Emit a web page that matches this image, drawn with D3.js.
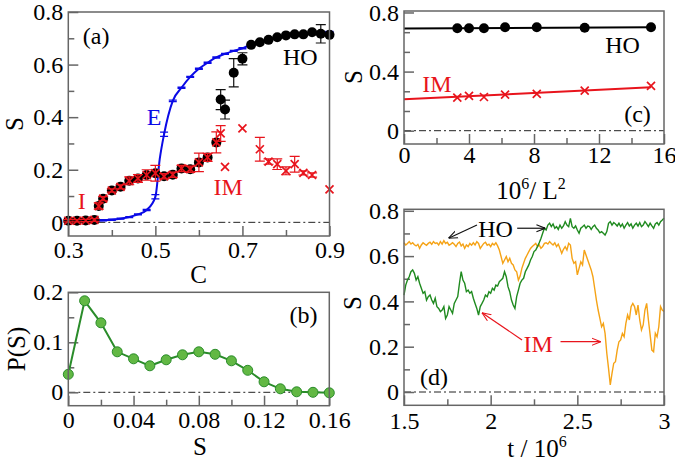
<!DOCTYPE html>
<html><head><meta charset="utf-8">
<script src="https://cdn.jsdelivr.net/npm/d3@7"></script>
<style>body{margin:0;background:#fff}svg{display:block}</style>
</head><body>
<svg id="c" width="675" height="470"></svg>
<script>
// ---------- Panel (a): S vs C ----------
const aIM_C = [0.30,0.32,0.34,0.36,0.37,0.38,0.40,0.42,0.44,0.46,0.48,0.50,0.52,0.54,0.56,0.58,0.60,0.62,0.64,0.65,0.66,0.70,0.74,0.76,0.78,0.80,0.82,0.84,0.86,0.90];
const aIM_S = [0.006,0.006,0.007,0.009,0.062,0.090,0.121,0.135,0.158,0.167,0.180,0.187,0.175,0.181,0.205,0.202,0.228,0.247,0.304,0.338,0.211,0.357,0.278,0.231,0.221,0.196,0.221,0.188,0.180,0.125];
const aIM_err = [0.004,0.004,0.004,0.005,0.012,0.008,0.006,0.008,0.015,0.015,0.020,0.030,0.010,0.010,0.012,0.012,0.035,0.015,0.040,0.030,0,0,0.045,0.010,0.020,0.015,0.030,0.008,0.008,0];
const aHO_C = [0.30,0.32,0.34,0.36,0.37,0.38,0.40,0.42,0.44,0.46,0.48,0.50,0.52,0.54,0.56,0.58,0.60,0.62,0.64,0.65,0.66,0.68,0.70,0.72,0.74,0.76,0.78,0.80,0.82,0.84,0.86,0.88,0.90];
const aHO_S = [0.006,0.006,0.007,0.009,0.062,0.090,0.121,0.135,0.158,0.167,0.180,0.187,0.175,0.181,0.205,0.202,0.228,0.247,0.304,0.467,0.429,0.569,0.622,0.675,0.685,0.694,0.704,0.711,0.715,0.715,0.723,0.717,0.713];
const aHO_err = [0,0,0,0,0,0,0,0,0,0,0,0,0,0,0,0,0,0,0,0.038,0.036,0.054,0.023,0,0,0,0,0,0,0,0,0.035,0];
const aE_C = [0.30,0.32,0.34,0.36,0.38,0.40,0.42,0.44,0.46,0.48,0.50,0.51,0.52,0.54,0.56,0.58,0.60,0.62,0.64,0.66,0.68,0.70,0.72,0.74,0.76,0.78,0.80,0.82,0.84,0.86,0.88,0.90];
const aE_S = [0.005,0.005,0.006,0.007,0.008,0.010,0.014,0.020,0.030,0.047,0.097,0.240,0.335,0.462,0.512,0.553,0.584,0.607,0.627,0.641,0.652,0.662,0.678,0.686,0.694,0.702,0.708,0.712,0.715,0.720,0.722,0.724];
const aE_err = [0.002,0.002,0.002,0.002,0.002,0.002,0.002,0.002,0.002,0.002,0.008,null,0.008,0.003,0.002,0.002,0.002,0.002,0.002,0.002,0.002,0.002,0.002,0.002,0.002,0.002,0.002,0.002,0.002,0.002,0.002,0.002];

// ---------- Panel (b): P(S) ----------
const bS = [0,0.01,0.02,0.03,0.04,0.05,0.06,0.07,0.08,0.09,0.10,0.11,0.12,0.13,0.14,0.15,0.16];
const bP = [0.036,0.183,0.139,0.081,0.067,0.053,0.065,0.075,0.081,0.076,0.063,0.044,0.021,0.007,0.001,0.000,-0.001];

// ---------- Panel (c): S vs 10^6/L^2 ----------
const cX  = [3.28,4.00,4.92,6.22,8.17,11.12,15.20];
const cHO = [0.693,0.693,0.693,0.700,0.700,0.697,0.700];
const cIM = [0.224,0.235,0.228,0.244,0.249,0.271,0.303];
const cHOfit = [0.692,0.0005];   // intercept, slope
const cIMfit = [0.212,0.0054];

// ---------- Panel (d): time series ----------
const dT0 = 1.5, dStep = 0.01;
const dOrange = [0.659,0.649,0.656,0.664,0.653,0.659,0.650,0.645,0.652,0.634,
 0.649,0.659,0.653,0.648,0.656,0.661,0.652,0.664,0.656,0.659,
 0.649,0.664,0.653,0.668,0.656,0.661,0.648,0.653,0.659,0.652,
 0.642,0.656,0.662,0.645,0.653,0.634,0.649,0.642,0.656,0.648,
 0.659,0.649,0.664,0.656,0.634,0.645,0.656,0.661,0.648,0.653,
 0.642,0.656,0.649,0.659,0.645,0.627,0.598,0.568,0.583,0.598,
 0.575,0.590,0.568,0.561,0.539,0.531,0.494,0.512,0.546,0.568,
 0.590,0.605,0.620,0.634,0.642,0.649,0.656,0.642,0.649,0.634,
 0.642,0.656,0.659,0.653,0.664,0.656,0.649,0.659,0.642,0.653,
 0.634,0.612,0.630,0.642,0.627,0.656,0.649,0.590,0.568,0.575,
 0.517,0.546,0.575,0.561,0.627,0.605,0.583,0.561,0.539,0.509,
 0.458,0.406,0.362,0.325,0.288,0.303,0.259,0.171,0.104,0.031,
 0.082,0.127,0.134,0.185,0.222,0.230,0.259,0.244,0.303,0.340,
 0.318,0.377,0.391,0.377,0.340,0.384,0.318,0.274,0.296,0.362,
 0.391,0.318,0.252,0.185,0.178,0.259,0.244,0.288,0.377,0.362,
 0.355];
const dGreen = [0.428,0.472,0.494,0.509,0.531,0.539,0.524,0.494,0.509,0.480,
 0.458,0.436,0.443,0.406,0.421,0.428,0.406,0.391,0.414,0.377,
 0.369,0.355,0.362,0.377,0.325,0.340,0.377,0.362,0.347,0.391,
 0.406,0.421,0.480,0.531,0.494,0.480,0.443,0.450,0.436,0.443,
 0.414,0.391,0.369,0.340,0.377,0.391,0.406,0.428,0.421,0.443,
 0.436,0.458,0.450,0.472,0.468,0.487,0.494,0.502,0.531,0.509,
 0.465,0.443,0.406,0.384,0.369,0.421,0.450,0.480,0.494,0.502,
 0.531,0.546,0.561,0.583,0.598,0.620,0.627,0.642,0.659,0.678,
 0.701,0.723,0.715,0.737,0.745,0.730,0.742,0.723,0.730,0.718,
 0.737,0.723,0.733,0.752,0.737,0.730,0.767,0.730,0.723,0.733,
 0.715,0.701,0.723,0.730,0.737,0.723,0.733,0.730,0.718,0.730,
 0.737,0.723,0.715,0.703,0.708,0.701,0.693,0.708,0.745,0.752,
 0.737,0.748,0.742,0.733,0.745,0.730,0.742,0.723,0.737,0.748,
 0.733,0.742,0.723,0.737,0.745,0.733,0.748,0.730,0.737,0.752,
 0.742,0.730,0.745,0.733,0.723,0.742,0.748,0.737,0.752,0.759,
 0.767];

// ---------- drawing ----------
const FONT = "'Liberation Serif','Times New Roman',Times,serif";
const FRAME = "#666";
const RED = "#e8141c", BLUE = "#0a0ae6";
const svg = d3.select("#c");
const defs = svg.append("defs");
[["ahK","#111"],["ahR",RED]].forEach(([id,c])=>{
  defs.append("marker").attr("id",id).attr("viewBox","0 0 10 10").attr("refX",10).attr("refY",5)
    .attr("markerWidth",9).attr("markerHeight",9).attr("orient","auto").attr("markerUnits","userSpaceOnUse")
    .append("path").attr("d","M0,1 L10,5 L0,9").attr("fill","none").attr("stroke",c).attr("stroke-width",1.2);
});
const fmt = d => String(+(+d).toFixed(3));

function panel(o){
  const x = d3.scaleLinear().domain(o.xd).range([o.l,o.r]);
  const y = d3.scaleLinear().domain(o.yd).range([o.b,o.t]);
  const g = svg.append("g");
  g.append("line").attr("x1",o.l).attr("x2",o.r).attr("y1",y(0)).attr("y2",y(0))
    .attr("stroke","#222").attr("stroke-width",1).attr("stroke-dasharray","7,3,2,3");
  const axes = g.append("g");
  axes.append("g").attr("transform",`translate(0,${o.b})`)
    .call(d3.axisBottom(x).tickValues(o.xt).tickSize(-10).tickPadding(o.xpad).tickFormat(fmt));
  axes.append("g").attr("transform",`translate(0,${o.b})`)
    .call(d3.axisBottom(x).tickValues(o.xm).tickSize(-6).tickFormat(""));
  axes.append("g").attr("transform",`translate(${o.l},0)`)
    .call(d3.axisLeft(y).tickValues(o.yt).tickSize(-10).tickPadding(5).tickFormat(fmt));
  axes.append("g").attr("transform",`translate(${o.l},0)`)
    .call(d3.axisLeft(y).tickValues(o.ym).tickSize(-6).tickFormat(""));
  axes.selectAll(".domain").remove();
  axes.selectAll("line").attr("stroke",FRAME).attr("stroke-width",1.5);
  axes.selectAll("text").attr("font-family",FONT).attr("font-size",24).attr("fill","#000");
  const data = g.append("g");
  const frame = () => g.append("rect").attr("x",o.l).attr("y",o.t).attr("width",o.r-o.l).attr("height",o.b-o.t)
    .attr("fill","none").attr("stroke",FRAME).attr("stroke-width",1.5);
  return {x,y,g,data,frame};
}
function txt(g,x,y,s,opt={}){
  return g.append("text").attr("x",x).attr("y",y).text(s).attr("font-family",FONT)
    .attr("font-size",opt.size||24).attr("fill",opt.color||"#000").attr("text-anchor",opt.anchor||"middle");
}
function ylabel(g,x,y,s){
  return g.append("text").attr("transform",`translate(${x},${y}) rotate(-90)`).text(s)
    .attr("font-family",FONT).attr("font-size",25).attr("text-anchor","middle");
}
function cross(g,cx,cy,h,color){
  g.append("path").attr("d",`M${cx-h},${cy-h}L${cx+h},${cy+h}M${cx-h},${cy+h}L${cx+h},${cy-h}`)
    .attr("stroke",color).attr("stroke-width",1.7).attr("fill","none");
}
function errbar(g,x,y,c,s,e,w,color,sw){
  if(!e) return;
  const y1=y(s-e), y2=y(s+e), cx=x(c);
  g.append("path").attr("d",`M${cx},${y1}V${y2}M${cx-w},${y1}H${cx+w}M${cx-w},${y2}H${cx+w}`)
    .attr("stroke",color).attr("stroke-width",sw||1.2).attr("fill","none");
}

// ===== Panel (a) =====
{
  const P = panel({l:68.3,r:329.5,t:12,b:236,xd:[0.3,0.9],yd:[-0.052,0.8],
    xt:[0.3,0.5,0.7,0.9],xm:[0.4,0.6,0.8],yt:[0,0.2,0.4,0.6,0.8],ym:[0.1,0.3,0.5,0.7],xpad:5});
  const {x,y,data}=P;
  data.append("path").datum(aE_C.map((c,i)=>[c,aE_S[i]]))
    .attr("d",d3.line().x(d=>x(d[0])).y(d=>y(d[1])).curve(d3.curveMonotoneX))
    .attr("fill","none").attr("stroke",BLUE).attr("stroke-width",2);
  aE_C.forEach((c,i)=>{ if(aE_err[i]!=null) errbar(data,x,y,c,aE_S[i],aE_err[i],4,BLUE,1.3); });
  aHO_C.forEach((c,i)=>errbar(data,x,y,c,aHO_S[i],aHO_err[i],5,"#111",1.2));
  data.selectAll("circle.ho").data(aHO_C.map((c,i)=>[c,aHO_S[i]])).enter().append("circle")
    .attr("cx",d=>x(d[0])).attr("cy",d=>y(d[1])).attr("r",5).attr("fill","#000");
  aIM_C.forEach((c,i)=>errbar(data,x,y,c,aIM_S[i],aIM_err[i],5,RED,1.2));
  aIM_C.forEach((c,i)=>cross(data,x(c),y(aIM_S[i]),4,RED));
  P.frame();
  txt(P.g,x(0.364),y(0.679),"(a)");
  txt(P.g,x(0.497),y(0.372),"E",{color:BLUE});
  txt(P.g,x(0.331),y(0.049),"I",{color:RED});
  txt(P.g,x(0.833),y(0.597),"HO");
  txt(P.g,x(0.667),y(0.104),"IM",{color:RED});
  txt(P.g,198.5,283,"C",{size:25});
  ylabel(P.g,23,124,"S");
}

// ===== Panel (b) =====
{
  const P = panel({l:68.3,r:329.3,t:292.3,b:405.7,xd:[0,0.16],yd:[-0.0268,0.2],
    xt:[0,0.04,0.08,0.12,0.16],xm:[0.02,0.06,0.10,0.14],yt:[0,0.1,0.2],ym:[0.05,0.15],xpad:5});
  const {x,y,data}=P;
  const pts = bS.map((s,i)=>[s,bP[i]]);
  data.append("path").datum(pts).attr("d",d3.line().x(d=>x(d[0])).y(d=>y(d[1])))
    .attr("fill","none").attr("stroke","#2a8c2a").attr("stroke-width",2);
  data.selectAll("circle").data(pts).enter().append("circle")
    .attr("cx",d=>x(d[0])).attr("cy",d=>y(d[1])).attr("r",5)
    .attr("fill","#62b844").attr("stroke","#2a8c2a").attr("stroke-width",1);
  P.frame();
  txt(P.g,x(0.1442),y(0.139),"(b)");
  txt(P.g,200,455,"S",{size:25});
  ylabel(P.g,25,349,"P(S)");
}

// ===== Panel (c) =====
{
  const P = panel({l:404,r:664,t:11,b:144,xd:[0,16],yd:[-0.09,0.81],
    xt:[0,4,8,12,16],xm:[2,6,10,14],yt:[0,0.4,0.8],ym:[0.4/3,0.8/3,0.4+0.4/3,0.4+0.8/3],xpad:2});
  const {x,y,data}=P;
  const xEnd = cX[cX.length-1];
  [[cHOfit,"#000"],[cIMfit,RED]].forEach(([f,col])=>{
    data.append("line").attr("x1",x(0)).attr("y1",y(f[0])).attr("x2",x(xEnd)).attr("y2",y(f[0]+f[1]*xEnd))
      .attr("stroke",col).attr("stroke-width",2);
  });
  data.selectAll("circle").data(cX.map((v,i)=>[v,cHO[i]])).enter().append("circle")
    .attr("cx",d=>x(d[0])).attr("cy",d=>y(d[1])).attr("r",5).attr("fill","#000");
  cX.forEach((v,i)=>cross(data,x(v),y(cIM[i]),4,RED));
  P.frame();
  txt(P.g,x(13.45),y(0.524),"HO");
  txt(P.g,x(2.03),y(0.264),"IM",{color:RED});
  txt(P.g,x(14.37),y(0.059),"(c)");
  const t = txt(P.g,531,199,"",{size:25});
  t.append("tspan").text("10");
  t.append("tspan").text("6").attr("font-size",16).attr("dy",-10);
  t.append("tspan").text("/ L").attr("dy",10);
  t.append("tspan").text("2").attr("font-size",16).attr("dy",-10);
  ylabel(P.g,362,77,"S");
}

// ===== Panel (d) =====
{
  const P = panel({l:404,r:664,t:209.3,b:405.3,xd:[1.5,3.0],yd:[-0.0587,0.8066],
    xt:[1.5,2,2.5,3],xm:[1.75,2.25,2.75],yt:[0,0.2,0.4,0.6,0.8],ym:[0.1,0.3,0.5,0.7],xpad:7});
  const {x,y,data}=P;
  const ln = d3.line().x((d,i)=>x(dT0+i*dStep)).y(d=>y(d));
  data.append("path").datum(dOrange).attr("d",ln).attr("fill","none").attr("stroke","#f5a316").attr("stroke-width",1.4);
  data.append("path").datum(dGreen).attr("d",ln).attr("fill","none").attr("stroke","#1f8a1f").attr("stroke-width",1.4);
  P.frame();
  const arrow=(t1,s1,t2,s2,col,m)=>P.g.append("line").attr("x1",x(t1)).attr("y1",y(s1)).attr("x2",x(t2)).attr("y2",y(s2))
    .attr("stroke",col).attr("stroke-width",1.2).attr("marker-end",`url(#${m})`);
  arrow(1.921,0.737,1.757,0.679,"#111","ahK");
  arrow(2.153,0.723,2.316,0.723,"#111","ahK");
  arrow(2.181,0.230,1.950,0.350,RED,"ahR");
  arrow(2.403,0.222,2.635,0.222,RED,"ahR");
  txt(P.g,x(1.928),y(0.686),"HO",{anchor:"start"});
  txt(P.g,x(2.189),y(0.178),"IM",{anchor:"start",color:RED});
  txt(P.g,x(1.593),y(0.031),"(d)",{anchor:"start"});
  const t = txt(P.g,537,457,"",{size:25});
  t.append("tspan").text("t / 10");
  t.append("tspan").text("6").attr("font-size",16).attr("dy",-10);
  ylabel(P.g,361,303,"S");
}
</script>
</body></html>
